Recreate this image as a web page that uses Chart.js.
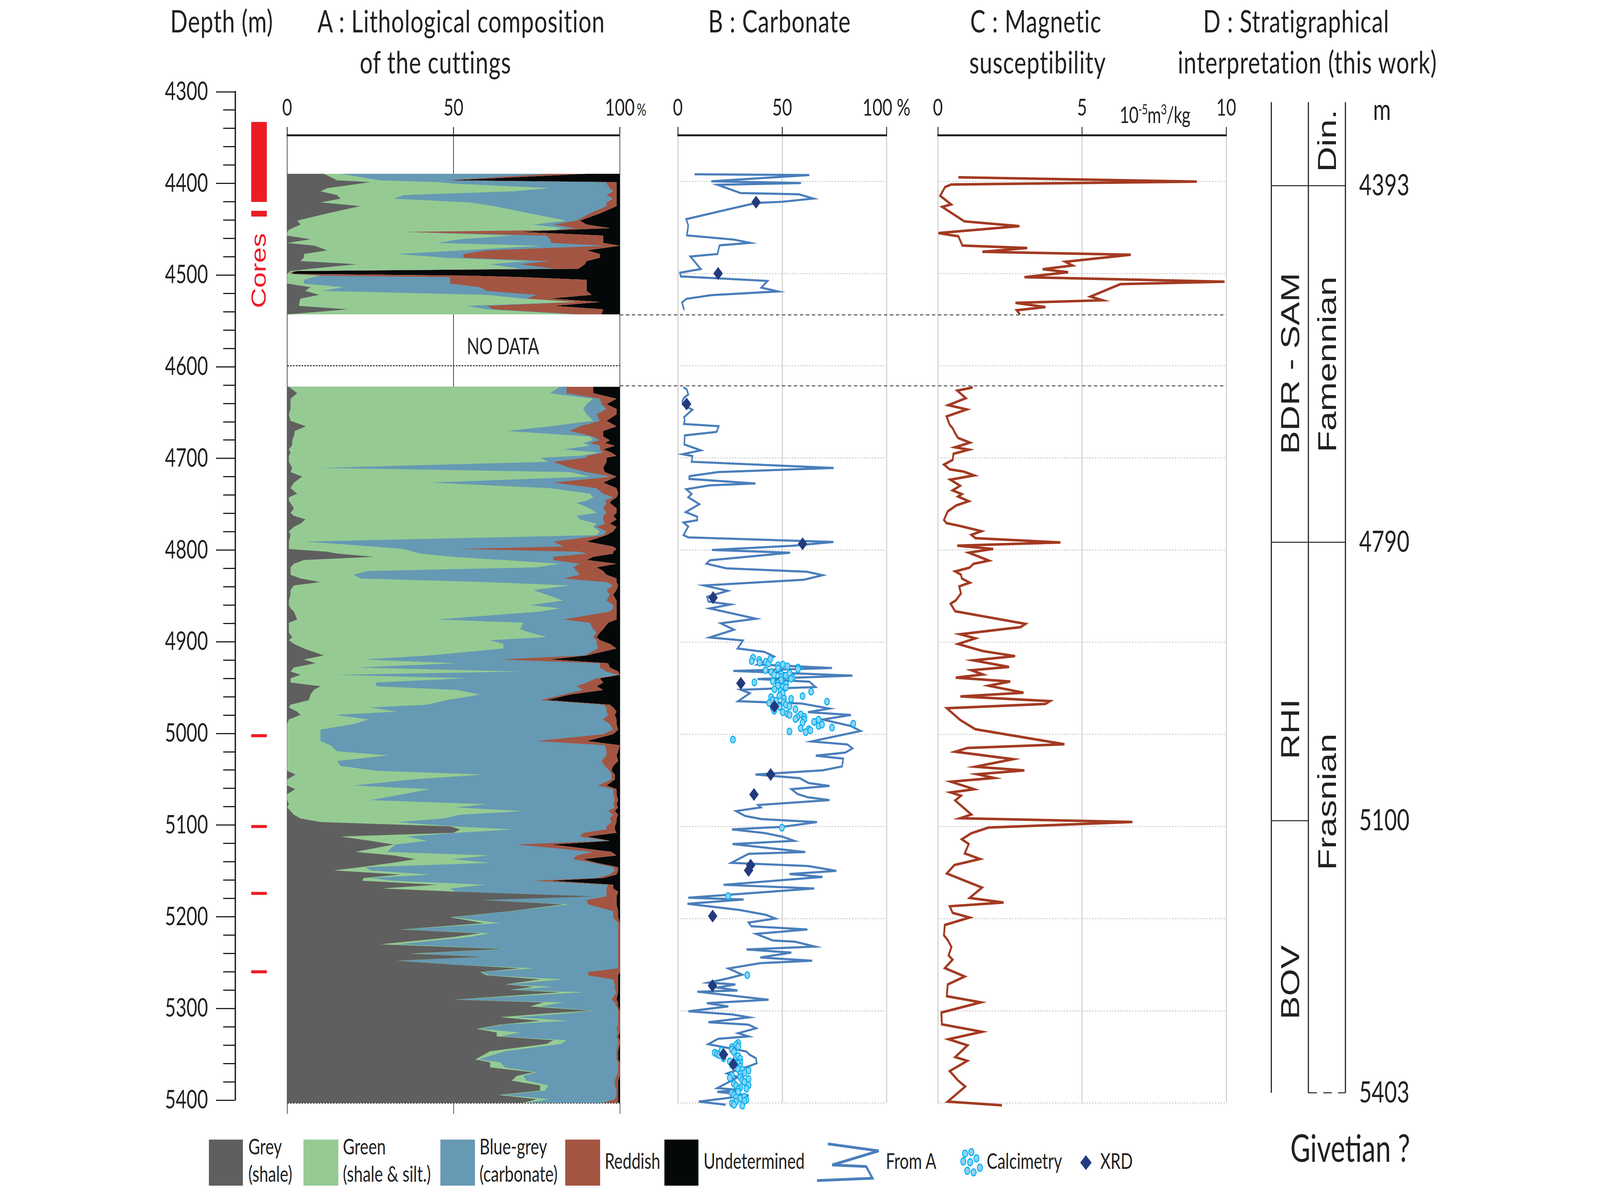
<!DOCTYPE html>
<html><head><meta charset="utf-8">
<script src="https://cdn.jsdelivr.net/npm/chart.js@4.4.1/dist/chart.umd.min.js"></script>
<style>
html,body{margin:0;padding:0;background:#fff;overflow:hidden;}
#root{position:absolute;left:0;top:0;width:5599px;height:3042px;overflow:hidden;transform-origin:0 0;font-family:Lato,'Noto Sans',sans-serif;color:#231f20;background:#fff;}
canvas{position:absolute;}
.t{position:absolute;white-space:nowrap;line-height:1;}
.c{transform:translateX(-50%);}
.title{font-size:80px;letter-spacing:1.5px;}
.lg{position:absolute;white-space:nowrap;font-size:56px;line-height:70px;}
.box{position:absolute;top:2918px;height:118px;}
</style></head><body>
<div id="root">
<div class="t c title" style="left:776px;top:12px">Depth (m)</div>
<div class="t c title" style="left:1614px;top:12px">A : Lithological composition</div>
<div class="t c title" style="left:1524px;top:117px">of the cuttings</div>
<div class="t c title" style="left:2728px;top:12px">B : Carbonate</div>
<div class="t c title" style="left:3625px;top:12px">C : Magnetic</div>
<div class="t c title" style="left:3631px;top:117px">susceptibility</div>
<div class="t c title" style="left:4536px;top:12px">D : Stratigraphical</div>
<div class="t c title" style="left:4575px;top:117px">interpretation (this work)</div>

<div class="t" style="left:2228px;top:259px;font-size:42px">%</div>
<div class="t" style="left:3918px;top:261px;font-size:58px;letter-spacing:-1px">10<sup style="font-size:36px;vertical-align:22px">-5</sup>m<sup style="font-size:36px;vertical-align:22px">3</sup>/kg</div>
<div class="t c" style="left:4836px;top:240px;font-size:76px">m</div>
<div class="t c" style="left:1760px;top:856px;font-size:58px">NO DATA</div>
<div class="t" style="left:905px;top:693px;font-size:72px;font-family:'Liberation Sans',Arial,sans-serif;color:#ed1c24;transform:translate(-50%,-50%) rotate(-90deg)">Cores</div>
<div class="t c" style="left:4725px;top:2890px;font-size:96px">Givetian ?</div>

<!-- legend -->
<div class="box" style="left:731px;width:119px;background:#5f5f5f"></div>
<div class="lg" style="left:869px;top:2900px">Grey<br>(shale)</div>
<div class="box" style="left:1062px;width:122px;background:#95cb93"></div>
<div class="lg" style="left:1200px;top:2900px">Green<br>(shale &amp; silt.)</div>
<div class="box" style="left:1541px;width:121px;background:#6699b3"></div>
<div class="lg" style="left:1678px;top:2900px">Blue-grey<br>(carbonate)</div>
<div class="box" style="left:1978px;width:122px;background:#a35542"></div>
<div class="lg" style="left:2116px;top:2937px">Reddish</div>
<div class="box" style="left:2325px;width:119px;background:#050808"></div>
<div class="lg" style="left:2462px;top:2937px">Undetermined</div>
<svg style="position:absolute;left:2856px;top:2925px" width="224" height="104" viewBox="0 0 224 104"><polyline points="41,4 219,22 56,58 175,62 197,92 3,98" fill="none" stroke="#4a7ebb" stroke-width="7"/></svg>
<div class="lg" style="left:3100px;top:2937px">From A</div>
<svg style="position:absolute;left:3355px;top:2940px" width="95" height="80" viewBox="0 0 95 80"><g fill="#8ad4f5" stroke="#00aeef" stroke-width="3"><circle cx="22" cy="14" r="9"/><circle cx="44" cy="10" r="9"/><circle cx="16" cy="34" r="9"/><circle cx="40" cy="36" r="9"/><circle cx="62" cy="26" r="9"/><circle cx="30" cy="58" r="9"/><circle cx="52" cy="62" r="9"/><circle cx="74" cy="50" r="9"/></g></svg>
<div class="lg" style="left:3453px;top:2937px">Calcimetry</div>
<svg style="position:absolute;left:3779px;top:2957px" width="42" height="40" viewBox="0 0 42 40"><polygon points="21,1 41,20 21,39 1,20" fill="#243a7f"/></svg>
<div class="lg" style="left:3850px;top:2937px">XRD</div>
</div>

<script>
// ---------------- DATA ----------------
const noDataTop = 4545, noDataBase = 4622;
const gridDepths = [4400,4500,4600,4700,4800,4900,5000,5100,5200,5300,5400];
const pctTicks = [0,50,100];
const magTicks = [0,5,10];

// Cores (depth intervals, m)
const coreTop  = [4333, 4430, 5001, 5100, 5173, 5258.5];
const coreBase = [4420, 4436, 5004, 5103, 5176, 5261.5];

// A : lithology, cumulative % at the right edge of each layer (grey | +green | +blue-grey | +reddish); undetermined up to 100 %
const lithoDepth = [4392,4399,4401,4402.5,4407.5,4411,4415,4419,4423,4427,4435,4442.8,4447,4451,4453,4455,4459,4463,4467,4470,4475,4479,4483,4486.6,4490,4495,4497.5,4499,4500.5,4502.5,4504,4507,4511,4515,4519,4523.3,4527.3,4531,4535.3,4539,4544.5,
4623,4630,4636,4642,4647,4653,4660,4666,4671,4677,4681,4684,4687,4691,4694.5,4698,4700,4704.4,4711,4715.6,4720.5,4727,4733,4739,4743,4746.6,4749,4755,4760,4763,4767,4771.5,4775,4780,4784,4791,4796.4,4799,4802,4804,4807.5,4811,4815,4819,4823,4827,4831,4835,4838.6,4843.6,4848.6,4855,4860,4863.5,4867,4875.5,4879,4886,4889.7,4894.6,4898,4902,4907,4914.5,4919,4923,4927.7,4932,4935.6,4939.3,4944,4948,4952,4957,4963,4968,4971,4975.5,4979,4984,4989,4995,
5000,5007.4,5012,5018.5,5023,5029,5034.4,5039.7,5043.7,5049,5055.6,5059.6,5065,5071.5,5076,5079.4,5083.4,5087.4,5091.4,5095.3,5100,5103.3,5107,5111,5115.7,5119.7,5127.6,5131.6,5135.6,5139.6,5144.3,5147.8,5152.3,5156,5159,5163.4,5167.4,5170.8,5176,5180,5184.6,5192,5198.6,5205,5212,5216,5220,5228,5233,5238,5241.5,5245.8,5250,5254,5258,5261.7,5266,5271.5,5274,5277.5,5280,5288,5291,5295.3,5300,5303,5307,5311,5315,5319.7,5323.6,5328,5332,5336,5344,5353,5356,5361.5,5366.8,5370.8,5376,5381,5386.7,5391.4,5396,5400];
const greyCum = [11,15,25,22,12,10,15,16,10,22,12,3,4,1.5,0.5,0,0,7,0,8.3,12,5,5,4,21,7,1,0.5,0,0,0,0,0,7,5.4,9.6,4,3.7,3.5,18.3,0,
0.5,3,1,1,1,0.5,1,5.6,2.3,2, 1.5,1.5,1.4,0.5,1,0.5,0.5,0.5,1.5,1, 4.5,2,1,3,0.5,0.5,1,2,1,2, 5.5,4,2,0.5,1,0.5,0.5,0.5,12,15, 26,5,2,1,1,1,4,10,2,1, 1,0.5,0.5,1,2,3,0.5,0.5,0.5,1.5, 0.5,2,5,11,5,8.5,2,1,4,1, 1,10,8,7,6.5,1,0.5,3,4,0.5, 0,0,0,0,0,0,0,0,0,0, 2.5,0,0,2.4,0,0,0.5,0,1,2, 4,10,49,52,50,16,25,32,20.5,32, 38.5,31.5,22,14,34,23,22.5,45,28.5,50, 93,59,83,67,49,59,34,58,50,28, 65,37,59,33,50,70,58,60,76,65.5, 74,67,82,50,77,73,91,78,64,76, 64,57,63,63,80,78,61,56.5,61,61, 74,69,67.5,76,76,63.5,75,71];
const greenCum = [16,28,45,50,79,68,35,32,55,62,73,84,74,83,80,35,68,52,45,76.5,53,33,48,73,61,70,2,1,1,10,8,5,5,17,10.5,60,71,87,54,60,86,
82,79,92,90,89,90,92,79,66,91, 92,89,91,83,94,88,76,78.5,10,85, 91,43,79,91,92,90,87,91,93,87, 88,93,92,94,93,5.5,26,35,38,40, 50,65,82,75,24,20,22,60,85,74, 78,83,73,82,76,45,71,70,73,78, 61,65,65,43,23,51,21,70,15,54, 26.5,27,51,58,48,42,25,33,14.5,24.5, 20,10,10,10,13,15,30.5,15,16,27, 59,38,20,43,35,25,60,50.5,71,52, 47,33,50,68,51,36,42,32.5,30,61, 49.5,61,23.5,25,43,25,32,59.5,49,50.5, 93,59,85,67.5,50,64,34.5,61,55,33, 66,39,59.5,33.5,50.5,74.5,58.5,61,83,66, 80,67.5,89.5,50,83,76,92,84,69,84.5, 65,58,70,64,84,82.5,65.5,57.5,64,65.5, 75,71,72,78.5,77.5,65,79,72];
const blueCum = [79,48,96,96,97,98,96,98,96,96,91,87,80,86.5,81,35,78,79,79.5,96,60,53,53,79,70,80.5,2,1,1,11,49,49,49,58,60,75,72,87,60,62,88,
84,84,94,94.5,96,93,94,88,85,92, 94,91,94,94,95,90,90,80,85,90, 97.5,80,93,95,98,95.5,96,95,96,95, 95,95.5,93,96,95,80,83,52,88,90, 80,80,88,86,87,88,83,96,98,96, 97,96,98,98,97,83,91,92,93,92, 93,93,93.5,89.5,64,94,94,96,99.5,93, 90,87,89,83,76,95,96,96,96.5,95, 97,98,95,75,95.5,96,96,94.5,95.5,97, 97.5,97.5,93.5,98,98,98.5,98,98.5,96.5,98, 97,97.5,96,96,89,88,96.5,69,92,87, 86,92,98,98.5,97,93,74,96.5,96,96, 96,90,90.5,98,98,99.5,99.5,99.5,99.5,99.5, 99.5,99.5,99.5,99.5,99.5,99.5,90.5,90.5,98,98.5, 98.5,98.5,99,97.5,98.5,99,99.5,99.5,99.5,99.5, 99.5,99,99.5,99,99.5,99.5,99,99,99.5,99.5, 99.5,99,98.5,98.5,99,99,98.5,95];
const reddishCum = [90,49,99,99,99,99,99,99,99,99,94,88,90,97,82,70,95,95,95,100,90,94,94,90,89.5,87.5,3,1.5,2,55,70,90,90,90,90,91.5,79,94,80,95,94.5,
92,92,99,96,99,99,96,99,95,95, 97,95.5,98.5,95,97.5,99,96,96,95,95.5, 99,95,99,99.5,99,97.5,97,99,99,98, 99,97,99,98,96,90,98,99,98,98, 92,90,99,93,95,96,99,99,99.5,99, 98,99,99,99,99,99,96.5,95,94,93, 94,97,99,90,79,96.5,97,99.5,100,94, 95,93,95,85,78,97,98,99,98.5,99, 99,99.5,98,90,100,99.5,99,99.5,98,97.5, 98.5,98.5,96,99,99,99.5,99,99.5,98.5,99.5, 99,99,98.5,98.5,99,90,97,79.5,97.5,99, 89,93,99.5,99.5,99,95,79,98,98,99.5, 99,99,99,99.5,99.5,100,100,100,100,100, 100,100,100,100,100,100,100,99.5,99.5,99.5, 99.5,99.5,99.5,99,99.5,99.5,100,100,100,100, 100,100,100,99.5,100,100,99.5,99.5,100,100, 100,100,99.5,99.5,99.5,99.5,99.5,99.5];

// B : carbonate (%), "From A" curve
const carbDepth = [4392.5,4393.3,4400.1,4402,4403.9,4412.8,4414.2,4418.8,4422.3,4423.6,4429,4441.2,4448,4458.8,4463.4,4466.9,4469.6,4479,4481.7,4495.3,4499.3,4503.3,4508.2,4515.5,4519.6,4523.6,4527.7,4531.7,4539.8,
4583,
4623.6,4626,4631.5,4634.8,4638.5,4642.2,4648,4655.9,4659.6,4663.4,4665.8,4672,4675.8,4685.7,4692,4696.2,4698.2,4704.4,4711.1,4715.6,4720,4723,4728,4730,4734.2,4739.2,4743,4750.4,4759,4764,4767.8,4770.3,4774.7,4784,4786.4,4791.4,4795.6,4800.1,4803.1,4811.3,4815,4820,4823.7,4827.5,4832.4,4838.6,4844.4,4851,4856,4859.3,4863.5,4874.7,4879.7,4886.6,4895,4898.3,4907,4910.7,4915.7,4924.4,4928.2,4931.4,4936.4,4940.1,4943,4948.8,4951.8,4955.5,4964.2,4966.7,4972.2,4976.1,4979.1,4984.1,4991,4996.5,
5007.9,5011.1,5015.4,5019.9,5023.3,5026.5,5035,5039.2,5043.7,5047.7,5053,5056.1,5059.6,5064.9,5068.3,5071.5,5076.8,5079.4,5083.4,5088.7,5092.2,5095.3,5100.5,5103.3,5107.3,5111.2,5115.7,5119.2,5127.9,5129.8,5139.6,5143,5148.3,5151.7,5154.9,5163.4,5167.4,5177.4,5179.3,5184,5190.7,5196,5200,5204.4,5208.4,5211.9,5216.6,5223.8,5225.1,5230.4,5233.6,5237,5242.3,5245.8,5248.4,5254.2,5260.9,5264.8,5269.6,5271.5,5274.9,5278.1,5279.4,5288.1,5291.8,5295.3,5300.6,5304,5307.2,5312.5,5315.1,5319.1,5324.4,5327.9,5330.5,5336.3,5344.3,5347.5,5351.7,5357,5360.2,5364.1,5368.1,5372.1,5384,5386,5388,5391.9,5398.6,5402];
const carbFromA = [8,63,16,59,19,30,58,65,50,37.5,27,4,5,4.3,27,34.6,20,19,6,11,1,1.4,43,40,48,16,4,2,3,
null,
2.7,4.3,5,3,2.2,2.3,7,3,3.3,2.9,19.6,18.6,3.3,3.1,11,2.3,7,6.6,74.7,19.3,5.6,5.5,37.2,15.3,4,6.6,5,10.3,3.8,9.3,9.3,2.7,5,2.7,5,74.6,54.8,16.3,53.8,15.3,13.7,23.2,61.8,69.4,60.4,12.6,23.9,14,14.6,25.2,15.3,37.5,20.6,26.9,15.3,31.2,28.6,41.5,46.1,38.2,73.9,26.6,83.7,38.2,63.1,66,30.2,34.5,28.9,59.4,72.7,62.4,83,69.4,82.7,87.6,
64.1,81.3,83.7,80.3,66.1,79.3,78.7,69.4,37.2,58.4,62.7,72.7,54.4,57.4,62.1,72.7,38.5,39.8,27.9,32.2,40.2,66.7,50.1,25.9,41.8,50.1,55.8,26.2,61.1,33.9,25.6,62.4,76,53.5,69.4,21.9,65.4,5,31.5,4.6,29.5,42.2,46.8,33.9,35.2,62.1,37.5,45.5,56.1,65.7,32.9,54.4,39.5,64.4,39.5,24.2,30.9,24.2,14.6,27.6,18.9,28.6,9.3,43.5,13.9,24.2,5,25.9,34.2,14.6,33.9,37.5,28.9,33.9,19.3,14.6,32.9,34.2,37.5,37.8,34.2,28.9,23.6,28.9,18.9,30,18.9,33.9,10,22.9];

// B : calcimetry (%)
const calciDepth = [4917,4920.7,4919.5,4922.4,4921.4,4923.4,4918.2,4925.2,4924.4,4926.4,4927.7,4929.4,4928.6,4930.6,4932.6,4935.6,4934.9,4938.1,4936.4,4933.9,4938.6,4939.8,4941.3,4942.6,4943.8,4944.8,4945.6,4947.3,4948.8,4949.3,4951.3,4953,4955.5,4958,4953.8,4961.2,4958.7,4961.7,4959.7,4963,4966.2,4963.7,4965.5,4968,4969.7,4970.4,4971.7,4974.6,4964.7,4972.9,4976.1,4977.9,4979.1,4978.6,4981.6,4981.1,4984.1,4983.6,4987.3,4986.6,4984.1,4991.1,4989.6,4992.8,4988.6,4993.5,4994.5,4995.8,4997.8,4997,
5005.8,5101.4,5175.6,5261.4,
5335,5336.9,5339.5,5339,5342.2,5344.8,5343,5345.6,5346.9,5348.3,5351.7,5350.1,5349,5352.2,5356.2,5354.9,5358.8,5357.5,5360.7,5363.4,5364.1,5364.9,5367.6,5368.6,5370.2,5372.9,5372.1,5375.5,5373.9,5377.4,5380.8,5379.2,5381.4,5383.5,5385.3,5384.5,5389.3,5391.4,5388,5394.1,5395.1,5393.3,5396.7,5398,5398.6,5400.4,5402,5403];
const calciValue = [36.1,35.4,39,39.2,42.2,43.5,44.3,48,50.3,52.5,57.6,57.6,48,42,44.8,46.1,49.5,49.5,51.8,53.5,55.1,54.3,49.5,45.5,36.7,47.9,51.9,48,50.3,51.8,46.3,49.3,50.3,48.7,63.9,50.9,59.8,54.3,44.7,45.5,43.8,47.1,50.8,51.8,53.5,48.8,45.5,46.2,71.5,56.4,50.3,52.5,53.5,58.9,57.3,60.6,60.6,56.4,59.8,65.3,67.5,67.5,69.1,73.9,84.1,58.9,62.7,63.5,61.3,53.5,
26.4,49.9,24.1,33.3,
28.9,27.9,25.9,28.9,25.9,26.9,20.9,17.7,18.9,19.9,21.9,27.9,28.9,29.9,29.9,24.9,25.9,28.9,29.9,28.9,30.9,33.9,31.9,29.9,25.9,24.9,29.9,30.9,33.9,31.9,33.9,26.9,27.9,29.9,28.9,32.9,25.9,26.9,28.9,27.9,29.9,31.9,32.9,31.9,27.9,25.9,26.9,30.9];

// B : XRD (%)
const xrdDepth = [4422.8,4500.1,4641.7,4793.4,4851.8,4944.8,4969.9,5043.7,5065.4,5142.2,5147.8,5197.3,5272.8,5347.5,5358.1];
const xrdValue = [37.5,19.3,4.2,59.8,16.9,30.2,46.3,44.5,36.5,34.9,33.9,16.7,16.6,21.9,26.6];

// C : magnetic susceptibility (10^-5 m3/kg)
const magDepth = [4395.8,4400.4,4403.6,4406.3,4415.8,4425.2,4427.9,4443.6,4448.7,4456.3,4459.8,4469.8,4472.5,4476.6,4479.8,4487.4,4491.4,4495.5,4498.7,4504.1,4509,4511.7,4525.2,4529.2,4532,4536.5,4540,4544.6,
4583,
4623.7,4627.2,4635.4,4643,4647.6,4655.2,4664.3,4667.9,4673.5,4678.6,4683.6,4688.7,4691.3,4695.8,4702.4,4707.5,4712.6,4715.1,4719.2,4723.8,4730.4,4735.5,4739.5,4742.1,4747.2,4751.7,4758.3,4767.5,4771,4774.1,4779.7,4783.7,4787.3,4791.9,4795.4,4799,4803,4811.7,4815.2,4819.3,4823.4,4826.9,4831,4835.6,4839.6,4847.3,4854.9,4858.4,4866.6,4880.3,4883.8,4891.5,4896,4902.1,4909.8,4915.3,4919.9,4927,4930.6,4935.2,4938.7,4942.8,4947.4,4955,4959,4964.1,4967.2,4971.8,4984.5,4994.6,5010.9,5014.9,5019,5027.1,5035.3,5039.3,5043.4,5047.5,5051.5,5059.7,5063.2,5066.8,5071.9,5082,5087.1,5091.2,5095.2,5101.3,5107.4,5114,5119.1,5129.3,5135.4,5142,5151.1,5159.8,5166.4,5177.6,5182.6,5186.7,5193.8,5198.9,5207,5218.2,5223.3,5230.9,5240,5244.6,5253.8,5262.9,5271.6,5284.3,5290.9,5302,5314.8,5322.9,5331,5337.6,5350.3,5354.4,5365.5,5375.7,5382.3,5398.6,5402.6];
const magSus = [0.71,8.98,0.46,0.25,0.08,0.46,0.15,0.92,2.83,0.02,0.71,0.85,3.1,1.54,6.69,4.42,4.67,3.63,4.52,3.0,9.94,6.33,5.29,5.71,2.69,3.73,2.73,2.85,
null,
1.21,0.67,0.97,0.36,1.0,0.30,0.41,0.51,0.60,0.70,1.11,0.59,1.07,0.54,0.51,0.21,0.41,0.90,1.26,0.43,0.77,0.51,0.83,0.70,1.07,0.64,0.34,0.21,0.30,0.77,1.51,1.16,1.30,4.25,0.67,1.92,1.07,1.77,1.23,1.10,0.60,0.80,0.83,1.11,0.74,0.80,0.62,0.44,0.60,3.04,2.87,0.77,1.30,0.70,1.56,2.68,1.23,2.47,1.16,1.56,0.62,2.51,1.76,2.97,0.78,3.89,3.73,0.31,0.77,1.30,4.39,1.03,0.60,2.61,1.30,3.0,1.36,1.95,0.45,1.26,0.44,0.80,0.60,0.97,1.16,0.77,6.75,1.76,1.16,0.83,1.07,0.93,1.46,0.57,0.31,1.0,1.53,1.10,2.28,0.41,0.51,1.10,0.24,0.21,0.34,0.47,0.37,0.51,0.24,0.93,0.34,0.31,1.49,0.12,0.14,1.53,0.37,1.03,0.60,1.02,0.41,0.70,0.95,0.34,2.22];

// D : stratigraphical interpretation
const formationNames = ['BDR - SAM','RHI','BOV'];
const formationTop = [4393,4790,5100];
const formationBase = [4790,5100,5403];
const formationLabelDepth = [4591,4998,5280];
const stageNames = ['Din.','Famennian','Frasnian'];
const stageTop = [4300,4393,4790];
const stageBase = [4393,4790,5403];
const stageLabelDepth = [4343,4592,5079];
const boundaryTicks = [4393,4790,5100,5403];

// ---------------- STYLE / LAYOUT ----------------
const INK = '#231f20';
const COL = {grey:'#5f5f5f', green:'#95cb93', blue:'#6699b3', red:'#a35542', undet:'#050808',
  fromA:'#4a7ebb', calFill:'#8ad4f5', calLine:'#00aeef', xrd:'#243a7f', mag:'#a33a22', core:'#ed1c24'};
const Y0 = 228, PXM = 2.36;          // pixel of 4300 m, pixels per metre
const yPix = d => Y0 + (d - 4300) * PXM;
const AXH = 120;                     // height of the top x axes
const PANEL_MIN = 4350, DEPTH_MAX = 5400;
const root = document.getElementById('root');

// the drawing is laid out on a 5599 x 3042 sheet; stretch it onto whatever viewport is available
(function fit(){
  const W = window.innerWidth || 5599, H = window.innerHeight || 3042;
  const sx = W/5599, sy = H/3042;
  if (Math.abs(sx-1) > 1e-3 || Math.abs(sy-1) > 1e-3) root.style.transform = 'scale(' + sx + ',' + sy + ')';
})();

function makeCanvas(left, top, w, h){
  const c = document.createElement('canvas');
  c.width = w; c.height = h;
  c.style.left = left+'px'; c.style.top = top+'px';
  c.style.width = w+'px'; c.style.height = h+'px';
  root.appendChild(c);
  return c.getContext('2d');
}
function base(extra){
  return Object.assign({responsive:false, animation:false, devicePixelRatio:1, events:[],
    plugins:{legend:{display:false}, tooltip:{enabled:false}}}, extra);
}
const forceTicks = arr => (s => { s.ticks = arr.map(v => ({value:v})); });
const pts = (ys, xs) => ys.map((y,i) => ({x: xs[i], y}));

function panel(left, right, opts){
  const pad = opts.pad;
  const top = yPix(PANEL_MIN) - AXH;
  const bottom = yPix(DEPTH_MAX);
  const extra = opts.bottomExt ? 28 : 0;
  const h = Math.round(bottom - top + 38);
  const ctx = makeCanvas(left - pad, top, Math.round(right - left + 2*pad), h);
  const scales = {
    x: {type:'linear', position:'top', min:opts.min, max:opts.max, z:opts.z||0,
      afterBuildTicks: forceTicks(opts.ticks),
      ticks:{font:{size:60}, color:INK, padding:12, maxRotation:0, autoSkip:false, callback:opts.label},
      grid:{color:opts.gridColor, lineWidth:opts.gridWidth, tickLength:21, tickWidth:3, tickColor:INK},
      border:{display:true, width:5, color:INK},
      afterFit: s => { s.height = AXH; }},
    y: {type:'linear', min:PANEL_MIN, max:DEPTH_MAX, reverse:true, z:opts.z||0,
      afterBuildTicks: forceTicks(gridDepths),
      ticks:{display:false},
      grid:{color:opts.hColor, lineWidth:3, drawTicks:false},
      border:{display:false, dash:opts.hDash},
      afterFit: s => { s.width = 0; }}
  };
  if (opts.bottomExt){
    scales.xb = {type:'linear', position:'bottom', min:opts.min, max:opts.max,
      afterBuildTicks: forceTicks(opts.ticks), ticks:{display:false},
      grid:{drawOnChartArea:false, tickLength:28, tickWidth:2, tickColor:INK},
      border:{display:false}, afterFit: s => { s.height = 28; }};
  }
  return new Chart(ctx, {type:'line', data:{datasets:opts.datasets},
    options: base({indexAxis:'y', layout:{padding:{left:pad, right:pad, top:0, bottom:38-extra}}, scales})});
}

function build(){
  // ---- depth axis + cores ----
  {
    const ctx = makeCanvas(0, Y0-60, 990, Math.round(yPix(DEPTH_MAX) - Y0 + 120));
    new Chart(ctx, {type:'bar',
      data:{labels:['Cores'], datasets: coreTop.map((t,i) => ({data:[[t, coreBase[i]]], backgroundColor:COL.core,
        barThickness:54, grouped:false, borderWidth:0, yAxisID:'yMinor'}))},
      options: base({layout:{padding:{top:60, bottom:60, left:0, right:0}},
        scales:{
          x:{type:'category', display:false},
          yMajor:{type:'linear', position:'left', weight:1, min:4300, max:DEPTH_MAX, reverse:true,
            ticks:{stepSize:100, font:{size:65}, color:INK, padding:28, callback: v => String(v)},
            grid:{drawOnChartArea:false, tickLength:25, tickWidth:3, tickColor:INK},
            border:{display:false}, afterFit: s => { s.width = 781; }},
          yMinor:{type:'linear', position:'left', weight:0, min:4300, max:DEPTH_MAX, reverse:true,
            ticks:{display:false, stepSize:20},
            grid:{drawOnChartArea:false, tickLength:42, tickWidth:3, tickColor:INK},
            border:{display:true, width:5, color:INK}, afterFit: s => { s.width = 42; }}
        }})});
  }

  // ---- A : lithology ----
  const lithoSets = inSection => {
    const idx = lithoDepth.map((d,i) => i).filter(i => inSection(lithoDepth[i]));
    const p = arr => idx.map(i => ({x: arr[i], y: lithoDepth[i]}));
    const b = {pointRadius:0, borderWidth:0, tension:0, xAxisID:'x', yAxisID:'y'};
    return [
      {...b, data:p(greyCum),    fill:{value:0},   backgroundColor:COL.grey},
      {...b, data:p(greenCum),   fill:{value:0},   backgroundColor:COL.green},
      {...b, data:p(blueCum),    fill:{value:0},   backgroundColor:COL.blue},
      {...b, data:p(reddishCum), fill:{value:0},   backgroundColor:COL.red},
      {...b, data:p(reddishCum), fill:{value:100}, backgroundColor:COL.undet},
    ];
  };
  panel(1005, 2169, {pad:110, min:0, max:100, ticks:pctTicks, z:1, bottomExt:true,
    label: v => String(v), gridColor:INK, gridWidth:2, hColor:'#3a3a3a', hDash:[6,4],
    datasets:[...lithoSets(d => d < noDataTop), ...lithoSets(d => d > noDataBase)]});

  // ---- B : carbonate ----
  panel(2372, 3102, {pad:130, min:0, max:100, ticks:pctTicks,
    label: v => v === 100 ? '100 %' : String(v), gridColor:'#c8c8c8', gridWidth:3, hColor:'#c8c8c8', hDash:[4,6],
    datasets:[
      {label:'XRD', data:pts(xrdDepth, xrdValue), showLine:false, pointStyle:'rectRot', pointRadius:16,
        backgroundColor:COL.xrd, borderColor:COL.xrd, borderWidth:1, clip:false, xAxisID:'x', yAxisID:'y'},
      {label:'Calcimetry', data:pts(calciDepth, calciValue), showLine:false, pointRadius:8.5,
        backgroundColor:COL.calFill, borderColor:COL.calLine, borderWidth:3, clip:false, xAxisID:'x', yAxisID:'y'},
      {label:'From A', data:pts(carbDepth, carbFromA), borderColor:COL.fromA, borderWidth:5.5, pointRadius:0,
        spanGaps:false, fill:false, tension:0, clip:false, xAxisID:'x', yAxisID:'y'}
    ]});

  // ---- C : magnetic susceptibility ----
  panel(3282, 4291, {pad:110, min:0, max:10, ticks:magTicks,
    label: v => String(v), gridColor:'#c8c8c8', gridWidth:3, hColor:'#c8c8c8', hDash:[4,6],
    datasets:[
      {data:pts(magDepth, magSus), borderColor:COL.mag, borderWidth:6.5, pointRadius:0, spanGaps:false,
        fill:false, tension:0, clip:false, xAxisID:'x', yAxisID:'y'}
    ]});

  // ---- no-data limits crossing B and C ----
  {
    const top = yPix(PANEL_MIN), bottom = yPix(DEPTH_MAX);
    const ctx = makeCanvas(2169, top, 4291-2169, Math.round(bottom-top));
    new Chart(ctx, {type:'line',
      data:{datasets:[noDataTop, noDataBase].map(d => ({data:[{x:0,y:d},{x:1,y:d}], borderColor:'#4d4d4d',
        borderWidth:2.5, borderDash:[12,9], pointRadius:0, fill:false}))},
      options: base({layout:{padding:0}, scales:{
        x:{type:'linear', min:0, max:1, display:false},
        y:{type:'linear', min:PANEL_MIN, max:DEPTH_MAX, reverse:true, display:false}}})});
  }

  // ---- D : stratigraphy ----
  {
    const DMAX = 5410;
    const h = Math.round(yPix(DMAX) - Y0 + 120);
    const ctx = makeCanvas(4429, Y0-60, 529, h);
    const seg = (x1, y1, x2, y2, w, dash) => ({data:[{x:x1,y:y1},{x:x2,y:y2}], borderColor:INK, borderWidth:w,
      borderDash:dash||[], pointRadius:0, fill:false, clip:false, borderCapStyle:'butt'});
    const sets = [];
    const colBottom = stageBase[stageBase.length-1];
    [0,1,2].forEach(c => sets.push(seg(c, stageTop[0], c, colBottom, 4)));
    formationTop.forEach(d => sets.push(seg(0, d, 1, d, 2.5)));
    stageTop.slice(1).forEach(d => sets.push(seg(1, d, 2, d, 2.5)));
    sets.push(seg(1, colBottom, 2, colBottom, 2.5, [30,22]));
    const labels = {id:'dLabels', afterDatasetsDraw(chart){
      const {ctx, scales:{x, y}} = chart;
      const fs = 90;
      ctx.save();
      ctx.fillStyle = INK; ctx.font = fs + 'px "Liberation Sans", Arial, sans-serif';
      ctx.textAlign = 'center'; ctx.textBaseline = 'alphabetic';
      const draw = (txt, col, d) => {
        ctx.save();
        ctx.translate(x.getPixelForValue(col) + 0.358*fs, y.getPixelForValue(d));
        ctx.rotate(-Math.PI/2);
        ctx.fillText(txt, 0, 0);
        ctx.restore();
      };
      formationNames.forEach((n,i) => draw(n, 0.5, formationLabelDepth[i]));
      stageNames.forEach((n,i) => draw(n, 1.5, stageLabelDepth[i]));
      ctx.restore();
    }};
    new Chart(ctx, {type:'line', data:{datasets:sets}, plugins:[labels],
      options: base({layout:{padding:{left:20, right:0, top:60, bottom:h - 60 - Math.round(yPix(DMAX) - Y0)}},
        scales:{
          x:{type:'linear', min:0, max:2, display:false},
          y:{type:'linear', position:'right', min:4300, max:DMAX, reverse:true,
            afterBuildTicks: forceTicks(boundaryTicks),
            ticks:{font:{size:76}, color:INK, padding:48, callback: v => String(v)},
            grid:{display:false, drawTicks:false}, border:{display:false},
            afterFit: s => { s.width = 250; }}
        }})});
  }
}

Chart.defaults.font.family = 'Lato';
Chart.defaults.color = INK;
Promise.all([document.fonts.load('60px Lato'), document.fonts.load('90px "Liberation Sans"')])
  .catch(()=>{}).then(build);
</script>
</body></html>
